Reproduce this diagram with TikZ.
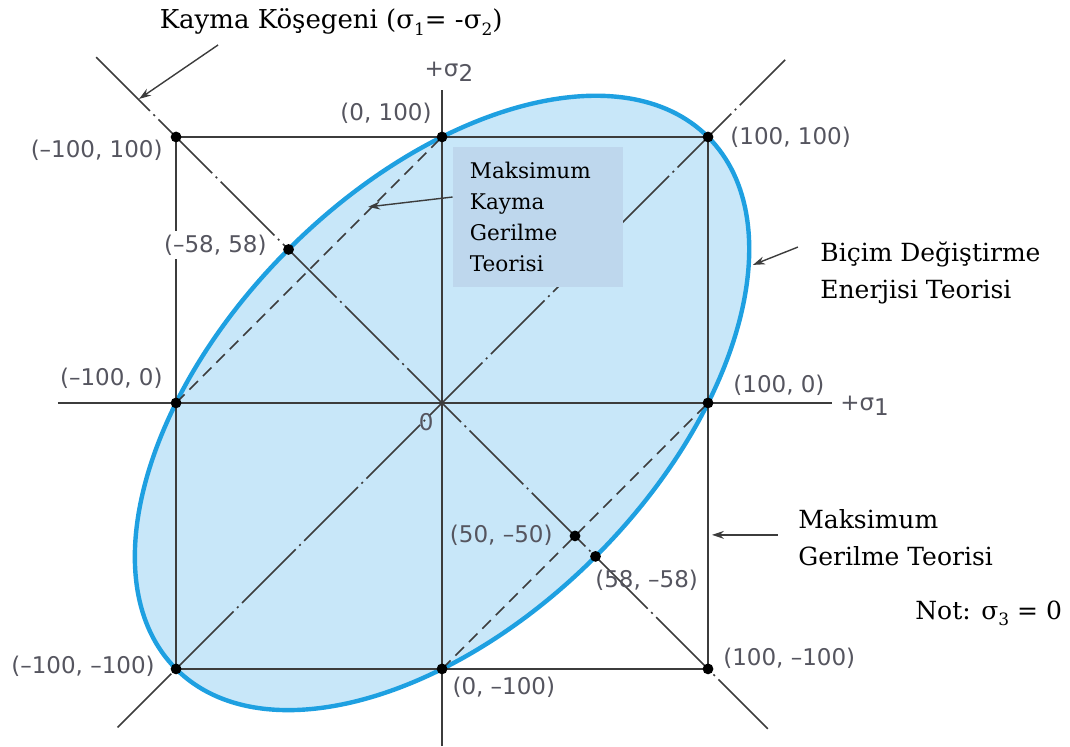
\documentclass[tikz,border=0pt]{standalone}
\usepackage{fontspec}
\setmainfont{DejaVu Serif}
\newfontfamily\labfont{DejaVu Sans}
\usetikzlibrary{arrows.meta,backgrounds}
\definecolor{ellfill}{RGB}{200,231,249}
\definecolor{ellline}{RGB}{30,160,225}
\definecolor{boxfill}{RGB}{190,215,237}
\definecolor{linegray}{RGB}{60,60,60}
\definecolor{labgray}{RGB}{85,85,95}
\newcommand{\dn}[1]{\raisebox{-0.45ex}{\fontsize{8.5}{9}\selectfont #1}}

\begin{document}
\begin{tikzpicture}[
  x=1.33pt, y=1.33pt,
  axis/.style={draw=linegray, line width=0.9pt},
  frame/.style={draw=linegray, line width=0.9pt},
  shear/.style={draw=linegray, line width=0.8pt,
    dash pattern=on 38pt off 2.5pt on 1pt off 2.5pt},
  tresca/.style={draw=linegray, line width=0.8pt, dash pattern=on 6pt off 3.5pt},
  coord/.style={font=\labfont\fontsize{11.5}{13}\selectfont, text=labgray,
    inner sep=0pt},
  note/.style={font=\fontsize{12.5}{18.5}\selectfont, align=left, inner sep=0pt},
  theory/.style={fill=boxfill, font=\fontsize{10.8}{15.5}\selectfont, align=left,
    minimum width=85pt, minimum height=70pt, text width=68pt, inner sep=0pt},
  arr/.style={-{Stealth[length=6pt,width=4pt]}, draw=linegray, line width=0.7pt}
]
\useasboundingbox (-166.2,-129.0) rectangle (236.1,151.5);

% stress points
\coordinate (o) at (0,0);
\coordinate (tl) at (-100,100);
\coordinate (tc) at (0,100);
\coordinate (tr) at (100,100);
\coordinate (ml) at (-100,0);
\coordinate (mr) at (100,0);
\coordinate (bl) at (-100,-100);
\coordinate (bc) at (0,-100);
\coordinate (br) at (100,-100);
\coordinate (s1) at (-57.7,57.7);
\coordinate (s2) at (50,-50);
\coordinate (s3) at (57.7,-57.7);

% line ends
\coordinate (xl) at (-144.4,0);
\coordinate (xr) at (146.6,0);
\coordinate (yb) at (0,-129);
\coordinate (yt) at (0,117.7);
\coordinate (d1a) at (-130,130);
\coordinate (d1b) at (122.5,-122.5);
\coordinate (d2a) at (-122,-122);
\coordinate (d2b) at (129,129);

\begin{scope}[on background layer]
\filldraw[fill=ellfill, draw=ellline, line width=2.2pt, rotate=45]
  (o) ellipse [x radius=188.1pt, y radius=108.6pt];
\end{scope}

\draw[axis] (xl) -- (xr);
\draw[axis] (yb) -- (yt);
\draw[frame] (tl) -- (tr) -- (br) -- (bl) -- cycle;
\draw[shear] (d1a) -- (d1b);
\draw[shear] (d2a) -- (d2b);
\draw[tresca] (ml) -- (tc);
\draw[tresca] (bc) -- (mr);

\foreach \p in {tl,tc,tr,ml,mr,bl,bc,br,s1,s2,s3}
  \fill (\p) circle (2.7pt);

\node[theory] (mkg) at (36.05,69.9) {Maksimum\\Kayma\\Gerilme\\Teorisi};

\node[coord, anchor=east] (ltc) at (-3.8,109) {(0, 100)};
\node[coord, anchor=east] (ltl) at (-104.9,95.1) {(–100, 100)};
\node[coord, anchor=east, fill=white, inner ysep=2pt] (ls1) at (-65.8,59.4) {(–58, 58)};
\node[coord, anchor=west] (ltr) at (108.3,100) {(100, 100)};
\node[coord, anchor=east] (lml) at (-104.9,9.4) {(–100, 0)};
\node[coord, anchor=west] (lmr) at (109.4,6.8) {(100, 0)};
\node[coord, anchor=west] (lx) at (149.6,-1) {+σ\raisebox{-0.4ex}{1}};
\node[coord] (ly) at (2.6,124.4) {+σ\raisebox{-0.4ex}{2}};
\node[coord] (lo) at (-6,-7.1) {0};
\node[coord, anchor=east] (ls2) at (41.7,-49.6) {(50, –50)};
\node[coord, anchor=west] (ls3) at (57.5,-66.5) {(58, –58)};
\node[coord, anchor=west] (lbr) at (105.6,-95.9) {(100, –100)};
\node[coord, anchor=west] (lbc) at (3.8,-107) {(0, –100)};
\node[coord, anchor=east] (lbl) at (-107.9,-99.2) {(–100, –100)};

\node[note, font=\fontsize{13}{18.5}\selectfont] (kk) at (-41.7,143.2)
  {Kayma Köşegeni (σ\dn{1}= -σ\dn{2})};
\node[note, anchor=west] (bde) at (142.1,48.7) {Biçim Değiştirme\\Enerjisi Teorisi};
\node[note, anchor=west] (mgt) at (133.8,-50.6) {Maksimum\\Gerilme Teorisi};
\node[note, anchor=west] (not) at (177.8,-79) {Not: σ\dn{3} = 0};

\coordinate (kka) at (-84.2,134.6);
\coordinate (kkb) at (-113.9,114.3);
\coordinate (mkgb) at (-27.8,73.7);
\coordinate (bdea) at (133.8,58.6);
\coordinate (bdeb) at (116.9,51.9);
\coordinate (mgta) at (126.3,-49.6);
\coordinate (mgtb) at (101.5,-49.6);

\draw[arr] (kka) -- (kkb);
\draw[arr] ([yshift=10pt]mkg.west) -- (mkgb);
\draw[arr] (bdea) -- (bdeb);
\draw[arr] (mgta) -- (mgtb);
\end{tikzpicture}
\end{document}
